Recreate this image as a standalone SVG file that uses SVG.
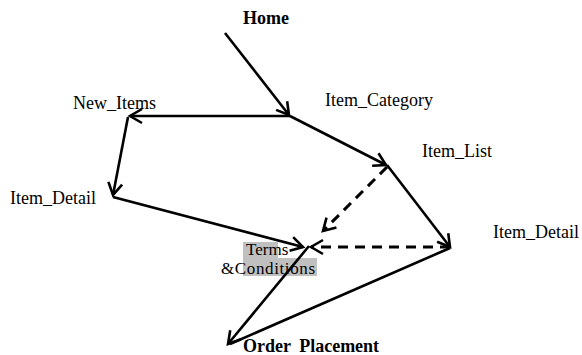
<svg xmlns="http://www.w3.org/2000/svg" width="582" height="355" viewBox="0 0 582 355">
<style>
.t{font-family:"Liberation Serif","Times New Roman",serif;font-size:18px;fill:#000}
.s{font-size:17px}
.b{font-weight:bold}
.e{stroke:#000;stroke-width:2.6;fill:none;marker-end:url(#ah)}
.d{stroke-dasharray:10,7;stroke-width:3}
</style>
<defs>
<marker id="ah" markerUnits="userSpaceOnUse" markerWidth="30" markerHeight="30" viewBox="-15 -15 30 30" refX="0" refY="0" orient="auto">
<path d="M-12,-7 L0,0 L-12,7" fill="none" stroke="#000" stroke-width="2.6"/>
</marker>
</defs>
<rect width="582" height="355" fill="#fff"/>
<g id="terms">
<rect x="243" y="242" width="35" height="16" fill="#c0c0c0"/>
<rect x="243" y="258" width="74" height="18" fill="#c0c0c0"/>
<text class="t s" x="246" y="255">Terms</text>
<text class="t s" x="221" y="274" textLength="94">&amp;Conditions</text>
</g>
<g id="home"><text class="t b" x="243" y="24">Home</text></g>
<g id="item_category"><text class="t" x="325" y="106">Item_Category</text></g>
<g id="new_items"><text class="t" x="73" y="109">New_Items</text></g>
<g id="item_detail_left"><text class="t" x="10" y="204">Item_Detail</text></g>
<g id="item_list"><text class="t" x="422" y="157">Item_List</text></g>
<g id="item_detail_right"><text class="t" x="493" y="238">Item_Detail</text></g>
<g id="order_placement"><text class="t b" x="243" y="352" word-spacing="4">Order Placement</text></g>
<g id="connectors">
<line class="e" x1="225" y1="33" x2="289" y2="115"/>
<line class="e" x1="290" y1="116" x2="130" y2="116"/>
<line class="e" x1="128" y1="117" x2="113" y2="195"/>
<line class="e" x1="113" y1="197" x2="303" y2="247"/>
<line class="e" x1="290" y1="116" x2="386" y2="165"/>
<line class="e" x1="387" y1="165" x2="450" y2="247"/>
<line class="e d" x1="387" y1="167" x2="323" y2="231"/>
<line class="e d" x1="450" y1="247" x2="311" y2="247"/>
<line class="e" x1="309" y1="246" x2="228" y2="344"/>
<line stroke="#000" stroke-width="2.6" x1="450" y1="248" x2="230" y2="344"/>
</g>
</svg>
